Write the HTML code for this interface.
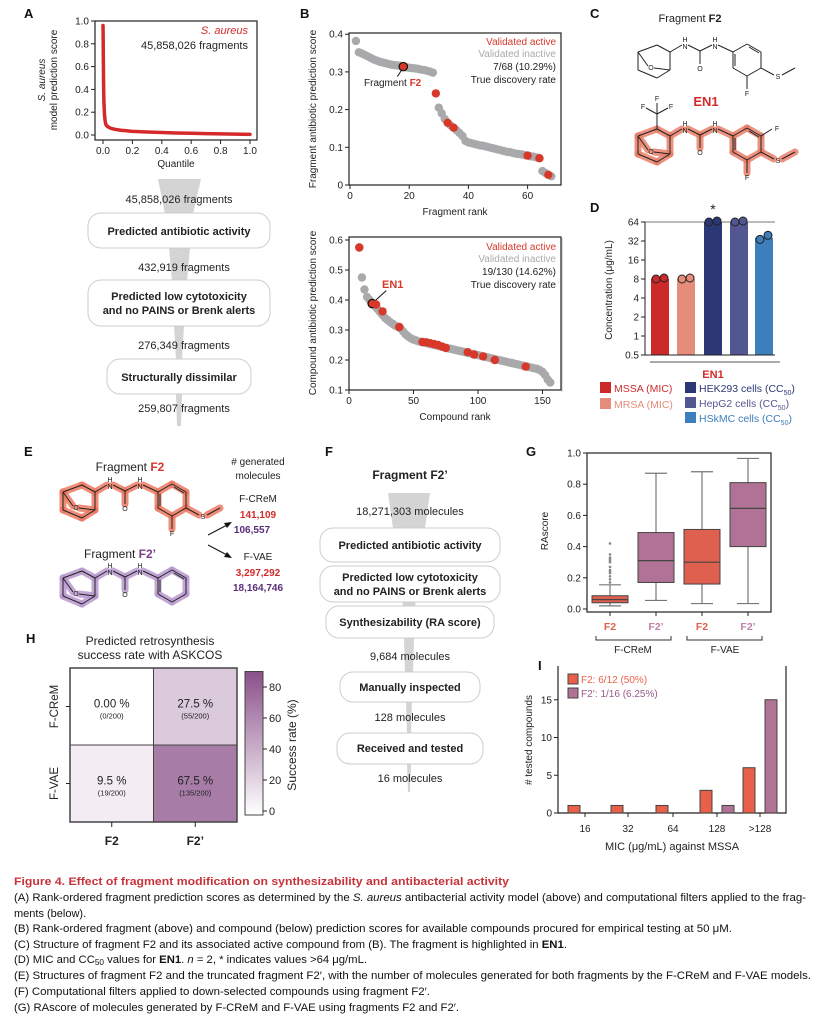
<!DOCTYPE html>
<html><head><meta charset="utf-8">
<style>
html,body{margin:0;padding:0;background:#fff}
svg{display:block}
text{font-family:"Liberation Sans",Arial,sans-serif;fill:#222}
.cap{font-family:"Liberation Sans Narrow","Liberation Sans",sans-serif;font-size:11px;fill:#111}
.lbl{font-weight:bold;font-size:13px;fill:#111}
.tk{font-size:10px}
.b{font-weight:bold}
</style></head>
<body>
<svg id="fig" width="821" height="1021" viewBox="0 0 821 1021" xmlns="http://www.w3.org/2000/svg">
<!-- panel letters -->
<text class="lbl" x="24" y="18">A</text>
<text class="lbl" x="300" y="18">B</text>
<text class="lbl" x="590" y="18">C</text>
<text class="lbl" x="590" y="212">D</text>
<text class="lbl" x="24" y="456">E</text>
<text class="lbl" x="325" y="456">F</text>
<text class="lbl" x="526" y="456">G</text>
<text class="lbl" x="26" y="643">H</text>
<text class="lbl" x="538" y="670">I</text>

<!-- A plot -->
<g id="pa">
<rect x="95" y="21" width="162" height="119" fill="none" stroke="#222" stroke-width="1.2"/>
<text x="38" y="80" transform="rotate(-90 45 80)" text-anchor="middle" font-size="10"><tspan x="45" font-style="italic">S. aureus</tspan><tspan x="45" dy="12">model prediction score</tspan></text>
<text x="176" y="167" text-anchor="middle" font-size="10">Quantile</text>
<text x="248" y="34" text-anchor="end" font-size="11" font-style="italic" fill="#d42a2a" style="fill:#d42a2a">S. aureus</text>
<text x="248" y="49" text-anchor="end" font-size="11">45,858,026 fragments</text>
</g>

<!-- A funnel -->
<g>
<polygon points="158,179 201,179 193,214 165,214" fill="#d4d4d4"/>
<polygon points="169,248 190,248 187,281 172,281" fill="#d4d4d4"/>
<polygon points="174,325 184,325 182,360 176,360" fill="#d4d4d4"/>
<polygon points="176,394 182,394 181,426 177,426" fill="#d4d4d4"/>
<text x="179" y="203" text-anchor="middle" font-size="11">45,858,026 fragments</text>
<rect x="88" y="213" width="182" height="35" rx="13" fill="#fff" stroke="#ccc"/>
<text x="179" y="235" text-anchor="middle" font-size="11" class="b">Predicted antibiotic activity</text>
<text x="184" y="271" text-anchor="middle" font-size="11">432,919 fragments</text>
<rect x="88" y="280" width="182" height="46" rx="13" fill="#fff" stroke="#ccc"/>
<text x="179" y="300" text-anchor="middle" font-size="11" class="b"><tspan x="179">Predicted low cytotoxicity</tspan><tspan x="179" dy="14">and no PAINS or Brenk alerts</tspan></text>
<text x="184" y="349" text-anchor="middle" font-size="11">276,349 fragments</text>
<rect x="107" y="359" width="144" height="35" rx="13" fill="#fff" stroke="#ccc"/>
<text x="179" y="381" text-anchor="middle" font-size="11" class="b">Structurally dissimilar</text>
<text x="184" y="412" text-anchor="middle" font-size="11">259,807 fragments</text>
</g>

<!-- B plots -->
<g id="pb1">
<rect x="349" y="33" width="212" height="152" fill="none" stroke="#222" stroke-width="1.2"/>
<text x="316" y="109" transform="rotate(-90 316 109)" text-anchor="middle" font-size="10">Fragment antibiotic prediction score</text>
<text x="455" y="215" text-anchor="middle" font-size="10">Fragment rank</text>
<text x="556" y="45" text-anchor="end" font-size="10" style="fill:#d8382a">Validated active</text>
<text x="556" y="57" text-anchor="end" font-size="10" style="fill:#aaa">Validated inactive</text>
<text x="556" y="70" text-anchor="end" font-size="10">7/68 (10.29%)</text>
<text x="556" y="83" text-anchor="end" font-size="10">True discovery rate</text>
<text x="364" y="86" font-size="10">Fragment <tspan class="b" style="fill:#d8382a">F2</tspan></text>
</g>
<g id="pb2">
<rect x="349" y="237" width="212" height="153" fill="none" stroke="#222" stroke-width="1.2"/>
<text x="316" y="313" transform="rotate(-90 316 313)" text-anchor="middle" font-size="10">Compound antibiotic prediction score</text>
<text x="455" y="420" text-anchor="middle" font-size="10">Compound rank</text>
<text x="556" y="250" text-anchor="end" font-size="10" style="fill:#d8382a">Validated active</text>
<text x="556" y="262" text-anchor="end" font-size="10" style="fill:#aaa">Validated inactive</text>
<text x="556" y="275" text-anchor="end" font-size="10">19/130 (14.62%)</text>
<text x="556" y="288" text-anchor="end" font-size="10">True discovery rate</text>
<text x="382" y="288" font-size="11" class="b" style="fill:#d8382a">EN1</text>
</g>

<!-- C -->
<text x="690" y="22" text-anchor="middle" font-size="11">Fragment <tspan class="b">F2</tspan></text>
<text x="706" y="106" text-anchor="middle" font-size="13" class="b" style="fill:#d42a2a">EN1</text>
<g id="molC1"></g>
<g id="molC2"></g>

<!-- D -->
<g id="pd">
<line x1="562" y1="238" x2="562" y2="392" stroke="#bbb"/>
<text x="612" y="290" transform="rotate(-90 612 290)" text-anchor="middle" font-size="10">Concentration (μg/mL)</text>
<line x1="650" y1="362" x2="780" y2="362" stroke="#777" stroke-width="1.2"/>
<text x="713" y="378" text-anchor="middle" font-size="11" class="b" style="fill:#d42a2a">EN1</text>
</g>

<!-- E -->
<text x="130" y="471" text-anchor="middle" font-size="12">Fragment <tspan class="b" style="fill:#d8382a">F2</tspan></text>
<text x="120" y="558" text-anchor="middle" font-size="12">Fragment <tspan class="b" style="fill:#7a3f8a">F2’</tspan></text>
<g id="molE1"></g>
<g id="molE2"></g>
<g>
<text x="258" y="465" text-anchor="middle" font-size="10"><tspan x="258"># generated</tspan><tspan x="258" dy="14">molecules</tspan></text>
<text x="258" y="502" text-anchor="middle" font-size="10">F-CReM</text>
<text x="258" y="518" text-anchor="middle" font-size="10" class="b" style="fill:#d42a2a">141,109</text>
<text x="252" y="533" text-anchor="middle" font-size="10" class="b" style="fill:#5a2d7a">106,557</text>
<text x="258" y="560" text-anchor="middle" font-size="10">F-VAE</text>
<text x="258" y="576" text-anchor="middle" font-size="10" class="b" style="fill:#d42a2a">3,297,292</text>
<text x="258" y="591" text-anchor="middle" font-size="10" class="b" style="fill:#5a2d7a">18,164,746</text>
<line x1="208" y1="535" x2="229" y2="524" stroke="#111"/><polygon points="232,522 224,523 227,528" fill="#111"/>
<line x1="208" y1="545" x2="229" y2="556" stroke="#111"/><polygon points="232,558 227,552 224,557" fill="#111"/>
</g>

<!-- F funnel -->
<g>
<text x="410" y="479" text-anchor="middle" font-size="12" class="b">Fragment F2’</text>
<polygon points="388,493 430,493 425,528 393,528" fill="#d4d4d4"/>
<polygon points="402,600 416,600 415,607 403,607" fill="#d4d4d4"/>
<polygon points="404,638 414,638 413,673 405,673" fill="#d4d4d4"/>
<polygon points="406,702 412,702 411,733 407,733" fill="#d4d4d4"/>
<polygon points="407,764 411,764 410,792 408,792" fill="#d4d4d4"/>
<text x="410" y="515" text-anchor="middle" font-size="11">18,271,303 molecules</text>
<rect x="320" y="528" width="180" height="34" rx="13" fill="#fff" stroke="#ccc"/>
<text x="410" y="549" text-anchor="middle" font-size="11" class="b">Predicted antibiotic activity</text>
<rect x="320" y="566" width="180" height="36" rx="13" fill="#fff" stroke="#ccc"/>
<text x="410" y="581" text-anchor="middle" font-size="11" class="b"><tspan x="410">Predicted low cytotoxicity</tspan><tspan x="410" dy="14">and no PAINS or Brenk alerts</tspan></text>
<rect x="326" y="606" width="168" height="32" rx="13" fill="#fff" stroke="#ccc"/>
<text x="410" y="626" text-anchor="middle" font-size="11" class="b">Synthesizability (RA score)</text>
<text x="410" y="660" text-anchor="middle" font-size="11">9,684 molecules</text>
<rect x="340" y="672" width="140" height="30" rx="13" fill="#fff" stroke="#ccc"/>
<text x="410" y="691" text-anchor="middle" font-size="11" class="b">Manually inspected</text>
<text x="410" y="721" text-anchor="middle" font-size="11">128 molecules</text>
<rect x="337" y="733" width="146" height="31" rx="13" fill="#fff" stroke="#ccc"/>
<text x="410" y="752" text-anchor="middle" font-size="11" class="b">Received and tested</text>
<text x="410" y="782" text-anchor="middle" font-size="11">16 molecules</text>
</g>

<!-- G -->
<g id="pg">
<rect x="587" y="453" width="184" height="159" fill="none" stroke="#222" stroke-width="1.2"/>
<text x="548" y="531" transform="rotate(-90 548 531)" text-anchor="middle" font-size="10">RAscore</text>
<path d="M596,636 v4 h75 v-4 M687,636 v4 h75 v-4" fill="none" stroke="#333"/>
<text x="633" y="653" text-anchor="middle" font-size="10">F-CReM</text>
<text x="725" y="653" text-anchor="middle" font-size="10">F-VAE</text>
</g>

<!-- H -->
<g id="ph">
<text x="150" y="645" text-anchor="middle" font-size="12"><tspan x="150">Predicted retrosynthesis</tspan><tspan x="150" dy="14">success rate with ASKCOS</tspan></text>
<text x="296" y="745" transform="rotate(-90 296 745)" text-anchor="middle" font-size="12">Success rate (%)</text>
</g>

<!-- I -->
<g id="pi">
<text x="532" y="740" transform="rotate(-90 532 740)" text-anchor="middle" font-size="10"># tested compounds</text>
<text x="672" y="850" text-anchor="middle" font-size="11">MIC (μg/mL) against MSSA</text>
</g>

<!-- caption -->
<g>
<text class="cap b" x="14" y="885" style="fill:#c8323a" font-size="12" textLength="495" lengthAdjust="spacingAndGlyphs">Figure 4.  Effect of fragment modification on synthesizability and antibacterial activity</text>
<text class="cap" x="14" y="901" textLength="792" lengthAdjust="spacingAndGlyphs">(A) Rank-ordered fragment prediction scores as determined by the <tspan font-style="italic">S. aureus</tspan> antibacterial activity model (above) and computational filters applied to the frag-</text>
<text class="cap" x="14" y="917">ments (below).</text>
<text class="cap" x="14" y="932" textLength="718" lengthAdjust="spacingAndGlyphs">(B) Rank-ordered fragment (above) and compound (below) prediction scores for available compounds procured for empirical testing at 50 μM.</text>
<text class="cap" x="14" y="948" textLength="553" lengthAdjust="spacingAndGlyphs">(C) Structure of fragment F2 and its associated active compound from (B). The fragment is highlighted in <tspan class="b">EN1</tspan>.</text>
<text class="cap" x="14" y="963" textLength="353" lengthAdjust="spacingAndGlyphs">(D) MIC and CC<tspan font-size="8" dy="2">50</tspan><tspan dy="-2"> values for </tspan><tspan class="b">EN1</tspan>. <tspan font-style="italic">n</tspan> = 2, * indicates values &gt;64 μg/mL.</text>
<text class="cap" x="14" y="979" textLength="797" lengthAdjust="spacingAndGlyphs">(E) Structures of fragment F2 and the truncated fragment F2′, with the number of molecules generated for both fragments by the F-CReM and F-VAE models.</text>
<text class="cap" x="14" y="995" textLength="416" lengthAdjust="spacingAndGlyphs">(F) Computational filters applied to down-selected compounds using fragment F2′.</text>
<text class="cap" x="14" y="1011" textLength="445" lengthAdjust="spacingAndGlyphs">(G) RAscore of molecules generated by F-CReM and F-VAE using fragments F2 and F2′.</text>
</g>
</svg>

<script>
// ---------- DATA ----------
// A: quantile curve
const aQuantiles = [0, 0.001, 0.002, 0.004, 0.006, 0.01, 0.015, 0.02, 0.03, 0.05, 0.08, 0.12, 0.2, 0.3, 0.4, 0.5, 0.6, 0.7, 0.8, 0.9, 1.0];
const aScores = [0.96, 0.88, 0.7, 0.45, 0.3, 0.18, 0.12, 0.09, 0.075, 0.06, 0.05, 0.042, 0.032, 0.026, 0.022, 0.018, 0.015, 0.012, 0.01, 0.008, 0.006];
const aXTicks = [0, 0.2, 0.4, 0.6, 0.8, 1.0];
const aYTicks = [0, 0.2, 0.4, 0.6, 0.8, 1.0];
// B top: fragments
const fragRanks = [2,3,4,5,6,7,8,9,10,11,12,13,14,15,16,17,18,19,20,21,22,23,24,25,26,27,28,29,30,31,32,33,34,35,36,37,38,39,40,41,42,43,44,45,46,47,48,49,50,51,52,53,54,55,56,57,58,59,60,61,62,63,64,65,66,67,68];
const fragScores = [.382,.352,.349,.345,.341,.337,.333,.330,.327,.325,.323,.321,.319,.318,.317,.316,.314,.312,.311,.310,.309,.308,.306,.305,.303,.301,.298,.243,.205,.19,.175,.165,.158,.152,.145,.138,.130,.117,.113,.111,.109,.107,.105,.104,.102,.100,.098,.096,.094,.092,.090,.088,.087,.085,.083,.082,.081,.079,.078,.076,.075,.073,.071,.037,.032,.027,.023];
const fragActive = [18,29,33,35,60,64,67];
const fragHighlight = 18;
const fragXTicks = [0,20,40,60];
const fragYTicks = [0,0.1,0.2,0.3,0.4];
// B bottom: compounds
const compRanks = [8,10,12,14,16,18,20,22,24,26,28,30,32,34,36,38,40,42,44,46,48,50,52,54,56,58,60,62,64,66,68,70,72,74,76,78,80,82,84,86,88,90,92,94,96,98,100,102,104,106,108,110,112,114,116,118,120,122,124,126,128,130,132,134,136,138,140,142,144,146,148,150,152,154,156];
const compScores = [.575,.475,.435,.41,.40,.388,.38,.37,.36,.35,.34,.333,.326,.32,.314,.31,.305,.295,.285,.278,.272,.268,.265,.262,.26,.258,.256,.254,.252,.25,.248,.246,.244,.242,.24,.238,.236,.234,.232,.23,.228,.226,.224,.222,.22,.218,.216,.214,.212,.21,.208,.206,.204,.202,.2,.198,.196,.194,.192,.19,.188,.186,.184,.182,.18,.178,.176,.174,.172,.17,.166,.16,.15,.135,.125];
const compActiveRanks = [8,18,21,26,39,57,60,63,66,69,72,75,92,97,104,113,137];
const compActiveScores = [.575,.388,.385,.362,.31,.26,.259,.256,.253,.25,.245,.24,.226,.218,.212,.2,.178];
const compHighlight = 18;
const compXTicks = [0,50,100,150];
const compYTicks = [0.1,0.2,0.3,0.4,0.5,0.6];
// D
const dLabels = ["MSSA (MIC)","MRSA (MIC)","HEK293 cells (CC50)","HepG2 cells (CC50)","HSkMC cells (CC50)"];
const dValues = [8, 8, 64, 64, 36];
const dRep1 = [8, 8, 64, 64, 34];
const dRep2 = [8, 8, 64, 64, 38];
const dTicks = [0.5,1,2,4,8,16,32,64];
// G
const gLabels = ["F2","F2’","F2","F2’"];
const gWhiskLo = [0.02, 0.055, 0.035, 0.035];
const gQ1 = [0.04, 0.17, 0.16, 0.40];
const gMed = [0.06, 0.31, 0.30, 0.645];
const gQ3 = [0.085, 0.49, 0.51, 0.81];
const gWhiskHi = [0.155, 0.87, 0.88, 0.965];
const gOutliers = [0.17,0.19,0.21,0.23,0.24,0.25,0.27,0.3,0.31,0.32,0.33,0.35,0.42];
const gYTicks = [0,0.2,0.4,0.6,0.8,1.0];
// H
const hRows = ["F-CReM","F-VAE"];
const hCols = ["F2","F2’"];
const hValues = [[0.00, 27.5],[9.5, 67.5]];
const hPct = [["0.00 %","27.5 %"],["9.5 %","67.5 %"]];
const hCounts = [["(0/200)","(55/200)"],["(19/200)","(135/200)"]];
const hBarTicks = [0,20,40,60,80];
// I
const iCats = ["16","32","64","128",">128"];
const iF2 = [1,1,1,3,6];
const iF2p = [0,0,0,1,15];
const iYTicks = [0,5,10,15];

// ---------- HELPERS ----------
const NS = "http://www.w3.org/2000/svg";
function el(tag, attrs, parent){const e=document.createElementNS(NS,tag);for(const k in attrs)e.setAttribute(k,attrs[k]);(parent||document.getElementById('fig')).appendChild(e);return e;}
function txt(x,y,s,attrs,parent){const t=el('text',Object.assign({x:x,y:y},attrs||{}),parent);t.textContent=s;return t;}

// ---------- A ----------
(function(){
  const g=document.getElementById('pa');
  const sx=v=>103+v*147, sy=v=>135-v*114;
  aYTicks.forEach(v=>{el('line',{x1:91,x2:95,y1:sy(v),y2:sy(v),stroke:'#222'},g);txt(89,sy(v)+3.5,v.toFixed(1),{'text-anchor':'end','font-size':10},g);});
  aXTicks.forEach(v=>{el('line',{x1:sx(v),x2:sx(v),y1:140,y2:144,stroke:'#222'},g);txt(sx(v),154,v.toFixed(1),{'text-anchor':'middle','font-size':10},g);});
  const p=el('polyline',{points:aQuantiles.map((q,i)=>sx(q)+','+sy(aScores[i])).join(' '),fill:'none',stroke:'#d42a2a','stroke-width':3.5,'stroke-linejoin':'round','stroke-linecap':'round'},g);
  
  
})();

// ---------- B ----------
(function(){
  const g=document.getElementById('pb1');
  const sx=v=>350+v*2.96, sy=v=>185-v*377;
  fragYTicks.forEach(v=>{el('line',{x1:345,x2:349,y1:sy(v),y2:sy(v),stroke:'#222'},g);txt(343,sy(v)+3.5,v===0?'0':v.toFixed(1),{'text-anchor':'end','font-size':10},g);});
  fragXTicks.forEach(v=>{el('line',{x1:sx(v),x2:sx(v),y1:185,y2:189,stroke:'#222'},g);txt(sx(v),199,String(v),{'text-anchor':'middle','font-size':10},g);});
  fragRanks.forEach((r,i)=>{if(fragActive.indexOf(r)<0){const c=el('circle',{cx:sx(r),cy:sy(fragScores[i]),r:4.2,fill:'#a9a9ab'},g);
    
    }});
  fragRanks.forEach((r,i)=>{if(fragActive.indexOf(r)>=0){const c=el('circle',{cx:sx(r),cy:sy(fragScores[i]),r:4.2,fill:'#d8382a',stroke:r===fragHighlight?'#111':'none','stroke-width':1.2},g);
    
    
    if(r===fragHighlight){el('line',{x1:sx(r)-2,y1:sy(fragScores[i])+4,x2:sx(r)-6,y2:sy(fragScores[i])+10,stroke:'#111'},g);}}});
  const g2=document.getElementById('pb2');
  const cx=v=>349+v*1.29, cy=v=>390-(v-0.1)*300;
  compYTicks.forEach(v=>{el('line',{x1:345,x2:349,y1:cy(v),y2:cy(v),stroke:'#222'},g2);txt(343,cy(v)+3.5,v.toFixed(1),{'text-anchor':'end','font-size':10},g2);});
  compXTicks.forEach(v=>{el('line',{x1:cx(v),x2:cx(v),y1:390,y2:394,stroke:'#222'},g2);txt(cx(v),404,String(v),{'text-anchor':'middle','font-size':10},g2);});
  compRanks.forEach((r,i)=>{const c=el('circle',{cx:cx(r),cy:cy(compScores[i]),r:4.2,fill:'#a9a9ab'},g2);
    
    });
  compActiveRanks.forEach((r,i)=>{const c=el('circle',{cx:cx(r),cy:cy(compActiveScores[i]),r:4.2,fill:'#d8382a',stroke:r===compHighlight?'#111':'none','stroke-width':1.2},g2);
    
    
    if(r===compHighlight){el('line',{x1:cx(r)+3,y1:cy(compActiveScores[i])-3,x2:cx(r)+14,y2:cy(compActiveScores[i])-13,stroke:'#111'},g2);}});
})();

// ---------- Molecules ----------
function mol(gid, ox, oy, opts){
  const g=document.getElementById(gid);
  const P=(x,y)=>[x+ox,y+oy];
  const bonds=[
    [[638,52],[657,45]],[[657,45],[670,52]],[[670,52],[670,70]],[[670,70],[657,78]],[[657,78],[638,70]],[[638,70],[638,52]],
    [[638,52],[648,66]],[[654,68],[670,70]],
    [[670,52],[682,45]],[[688,45],[700,51]],[[700,51],[712,45]],[[718,45],[733,52]],[[700,51],[700,64]],
    [[733,52],[747,44]],[[747,44],[761,52]],[[761,52],[761,68]],[[761,68],[747,76]],[[747,76],[733,68]],[[733,68],[733,52]]
  ];
  if(opts.tail){bonds.push([[747,76],[747,89]],[[761,68],[774,75]],[[782,75],[795,68]]);}
  if(opts.hl){bonds.forEach(b=>{el('line',{x1:P(...b[0])[0],y1:P(...b[0])[1],x2:P(...b[1])[0],y2:P(...b[1])[1],stroke:opts.hl,'stroke-width':7,'stroke-linecap':'round','opacity':0.85},g);});}
  bonds.forEach(b=>{el('line',{x1:P(...b[0])[0],y1:P(...b[0])[1],x2:P(...b[1])[0],y2:P(...b[1])[1],stroke:'#222','stroke-width':1},g);});
  el('line',{x1:P(749,47)[0],y1:P(749,47)[1],x2:P(759,53)[0],y2:P(759,53)[1],stroke:'#222','stroke-width':1},g);
  el('line',{x1:P(735,54)[0],y1:P(735,54)[1],x2:P(735,66)[0],y2:P(735,66)[1],stroke:'#222','stroke-width':1},g);
  const fs=7;
  txt(P(685,42)[0],P(685,42)[1],'H',{'text-anchor':'middle','font-size':fs},g);
  txt(P(685,49)[0],P(685,49)[1],'N',{'text-anchor':'middle','font-size':fs},g);
  txt(P(715,42)[0],P(715,42)[1],'H',{'text-anchor':'middle','font-size':fs},g);
  txt(P(715,49)[0],P(715,49)[1],'N',{'text-anchor':'middle','font-size':fs},g);
  txt(P(700,71)[0],P(700,71)[1],'O',{'text-anchor':'middle','font-size':fs},g);
  txt(P(651,70)[0],P(651,70)[1],'O',{'text-anchor':'middle','font-size':fs},g);
  if(opts.tail){txt(P(747,96)[0],P(747,96)[1],'F',{'text-anchor':'middle','font-size':fs},g);txt(P(778,79)[0],P(778,79)[1],'S',{'text-anchor':'middle','font-size':fs},g);}
  if(opts.cf3){
    el('line',{x1:P(657,45)[0],y1:P(657,45)[1],x2:P(657,30)[0],y2:P(657,30)[1],stroke:'#222'},g);
    el('line',{x1:P(657,30)[0],y1:P(657,30)[1],x2:P(657,19)[0],y2:P(657,19)[1],stroke:'#222'},g);
    el('line',{x1:P(657,30)[0],y1:P(657,30)[1],x2:P(646,24)[0],y2:P(646,24)[1],stroke:'#222'},g);
    el('line',{x1:P(657,30)[0],y1:P(657,30)[1],x2:P(668,24)[0],y2:P(668,24)[1],stroke:'#222'},g);
    txt(P(657,17)[0],P(657,17)[1],'F',{'text-anchor':'middle','font-size':fs},g);
    txt(P(643,25)[0],P(643,25)[1],'F',{'text-anchor':'middle','font-size':fs},g);
    txt(P(671,25)[0],P(671,25)[1],'F',{'text-anchor':'middle','font-size':fs},g);
    el('line',{x1:P(761,52)[0],y1:P(761,52)[1],x2:P(772,45)[0],y2:P(772,45)[1],stroke:'#222'},g);
    txt(P(777,47)[0],P(777,47)[1],'F',{'text-anchor':'middle','font-size':fs},g);
  }
}
mol('molC1',0,0,{tail:true});
mol('molC2',0,84,{tail:true,cf3:true,hl:'#e8806a'});
mol('molE1',-575,440,{tail:true,hl:'#ec7a62'});
mol('molE2',-575,526,{tail:false,hl:'#b99ad0'});

// ---------- D ----------
(function(){
  const g=document.getElementById('pd');
  const sy=v=>355-(Math.log2(v)+1)*19;
  const colors=['#cc2a2a','#e58c7a','#2c3775','#535791','#3d7fbc'];
  const xs=[660,686,713,739,764];
  el('line',{x1:645,x2:775,y1:sy(64),y2:sy(64),stroke:'#777','stroke-width':1},g);
  dValues.forEach((v,i)=>{
    const r=el('rect',{x:xs[i]-9,y:sy(v),width:18,height:355-sy(v),fill:colors[i]},g);
    
    
    el('circle',{cx:xs[i]-4,cy:sy(dRep1[i]),r:4,fill:colors[i],stroke:'#222','stroke-width':1},g);
    el('circle',{cx:xs[i]+4,cy:sy(dRep2[i])-1,r:4,fill:colors[i],stroke:'#222','stroke-width':1},g);
  });
  txt(713,214,'*',{'text-anchor':'middle','font-size':14},g);
  el('line',{x1:645,x2:645,y1:sy(64),y2:355,stroke:'#222'},g);
  el('line',{x1:645,x2:775,y1:355,y2:355,stroke:'#222'},g);
  dTicks.forEach(v=>{el('line',{x1:641,x2:645,y1:sy(v),y2:sy(v),stroke:'#222'},g);txt(639,sy(v)+3.5,String(v),{'text-anchor':'end','font-size':10},g);});
  const lx=[600,600,685,685,685], ly=[392,408,392,407,422];
  const tc=['#cc2a2a','#e58c7a','#2c3775','#535791','#3d7fbc'];
  dLabels.forEach((s,i)=>{
    el('rect',{x:lx[i],y:ly[i]-10,width:11,height:11,fill:colors[i]},g);
    const t=el('text',{x:lx[i]+14,y:ly[i],'font-size':10.5,style:'fill:'+tc[i]},g);
    
    
    if(s.indexOf('CC50')>=0){t.textContent=s.replace('CC50)','CC');const sub=el('tspan',{'font-size':7,dy:3},t);sub.textContent='50';const cl=el('tspan',{dy:-3},t);cl.textContent=')';}
    else t.textContent=s;
  });
})();

// ---------- G ----------
(function(){
  const g=document.getElementById('pg');
  const sy=v=>609-v*156;
  const xs=[610,656,702,748];
  const cols=['#e0604f','#b07295','#e0604f','#b07295'];
  const lc=['#e0604f','#c080a8','#e0604f','#c080a8'];
  gYTicks.forEach(v=>{el('line',{x1:583,x2:587,y1:sy(v),y2:sy(v),stroke:'#222'},g);txt(581,sy(v)+3.5,v.toFixed(1),{'text-anchor':'end','font-size':10},g);});
  xs.forEach((x,i)=>{
    el('line',{x1:x,x2:x,y1:612,y2:616,stroke:'#222'},g);
    el('line',{x1:x,x2:x,y1:sy(gWhiskLo[i]),y2:sy(gWhiskHi[i]),stroke:'#777','stroke-width':1.2},g);
    el('line',{x1:x-11,x2:x+11,y1:sy(gWhiskLo[i]),y2:sy(gWhiskLo[i]),stroke:'#777','stroke-width':1.2},g);
    el('line',{x1:x-11,x2:x+11,y1:sy(gWhiskHi[i]),y2:sy(gWhiskHi[i]),stroke:'#777','stroke-width':1.2},g);
    const b=el('rect',{x:x-18,y:sy(gQ3[i]),width:36,height:sy(gQ1[i])-sy(gQ3[i]),fill:cols[i],stroke:'#444','stroke-width':1},g);
    
    
    el('line',{x1:x-18,x2:x+18,y1:sy(gMed[i]),y2:sy(gMed[i]),stroke:'#444','stroke-width':1.2},g);
    txt(x,630,gLabels[i],{'text-anchor':'middle','font-size':10.5,'font-weight':'bold',style:'fill:'+lc[i]},g);
  });
  gOutliers.forEach(v=>{el('circle',{cx:xs[0],cy:sy(v),r:1.3,fill:'#888'},g);});
})();

// ---------- H ----------
(function(){
  const g=document.getElementById('ph');
  const x0=70,y0=668,cw=83.5,ch=77;
  const col=v=>{const t=v/90;const r=Math.round(255-(255-138)*t),gg=Math.round(255-(255-80)*t),b=Math.round(255-(255-138)*t);return 'rgb('+r+','+gg+','+b+')';};
  hValues.forEach((row,i)=>row.forEach((v,j)=>{
    const r=el('rect',{x:x0+j*cw,y:y0+i*ch,width:cw,height:ch,fill:col(v),stroke:'#444','stroke-width':1},g);
    
    
    txt(x0+j*cw+cw/2,y0+i*ch+ch/2+1,hPct[i][j],{'text-anchor':'middle','font-size':11.5},g);
    txt(x0+j*cw+cw/2,y0+i*ch+ch/2+12,hCounts[i][j],{'text-anchor':'middle','font-size':7.5},g);
  }));
  el('rect',{x:x0,y:y0,width:2*cw,height:2*ch,fill:'none',stroke:'#444','stroke-width':1.5},g);
  hRows.forEach((s,i)=>{const yy=y0+i*ch+ch/2;el('line',{x1:x0-4,x2:x0,y1:yy,y2:yy,stroke:'#222'},g);txt(58,yy,s,{'text-anchor':'middle','font-size':11.5,transform:'rotate(-90 58 '+yy+')'},g);});
  hCols.forEach((s,j)=>{const xx=x0+j*cw+cw/2;el('line',{x1:xx,x2:xx,y1:y0+2*ch,y2:y0+2*ch+5,stroke:'#222'},g);txt(xx,845,s,{'text-anchor':'middle','font-size':12,'font-weight':'bold'},g);});
  const defs=el('defs',{},g);const lg=el('linearGradient',{id:'cb',x1:0,y1:1,x2:0,y2:0},defs);
  el('stop',{offset:0,'stop-color':col(0)},lg);el('stop',{offset:1,'stop-color':col(90)},lg);
  const by=v=>811-v*1.55;
  el('rect',{x:245,y:by(90),width:18,height:by(0)-by(90)+4,fill:'url(#cb)',stroke:'#444'},g);
  hBarTicks.forEach(v=>{el('line',{x1:263,x2:267,y1:by(v),y2:by(v),stroke:'#222'},g);txt(269,by(v)+4,String(v),{'font-size':11},g);});
})();

// ---------- I ----------
(function(){
  const g=document.getElementById('pi');
  const sy=v=>813-v*7.55;
  const xs=[585,628,673,717,760];
  el('polyline',{points:'558,666 558,813 786,813 786,666',fill:'none',stroke:'#222','stroke-width':1.2},g);
  iYTicks.forEach(v=>{el('line',{x1:554,x2:558,y1:sy(v),y2:sy(v),stroke:'#222'},g);txt(552,sy(v)+3.5,String(v),{'text-anchor':'end','font-size':10},g);});
  iCats.forEach((c,i)=>{
    el('line',{x1:xs[i],x2:xs[i],y1:813,y2:817,stroke:'#222'},g);
    txt(xs[i],832,c,{'text-anchor':'middle','font-size':10},g);
    if(iF2[i]>0){const r=el('rect',{x:xs[i]-17,y:sy(iF2[i]),width:12,height:813-sy(iF2[i]),fill:'#e8604a',stroke:'#444'},g);
      
      }
    if(iF2p[i]>0){const r=el('rect',{x:xs[i]+5,y:sy(iF2p[i]),width:12,height:813-sy(iF2p[i]),fill:'#b07295',stroke:'#444'},g);
      
      }
  });
  el('rect',{x:568,y:674,width:10,height:10,fill:'#e8604a',stroke:'#444'},g);
  txt(581,683,'F2: 6/12 (50%)',{'font-size':10,style:'fill:#e8604a'},g);
  el('rect',{x:568,y:688,width:10,height:10,fill:'#b07295',stroke:'#444'},g);
  txt(581,697,'F2’: 1/16 (6.25%)',{'font-size':10,style:'fill:#9a5a8a'},g);
})();
</script>
</body></html>
